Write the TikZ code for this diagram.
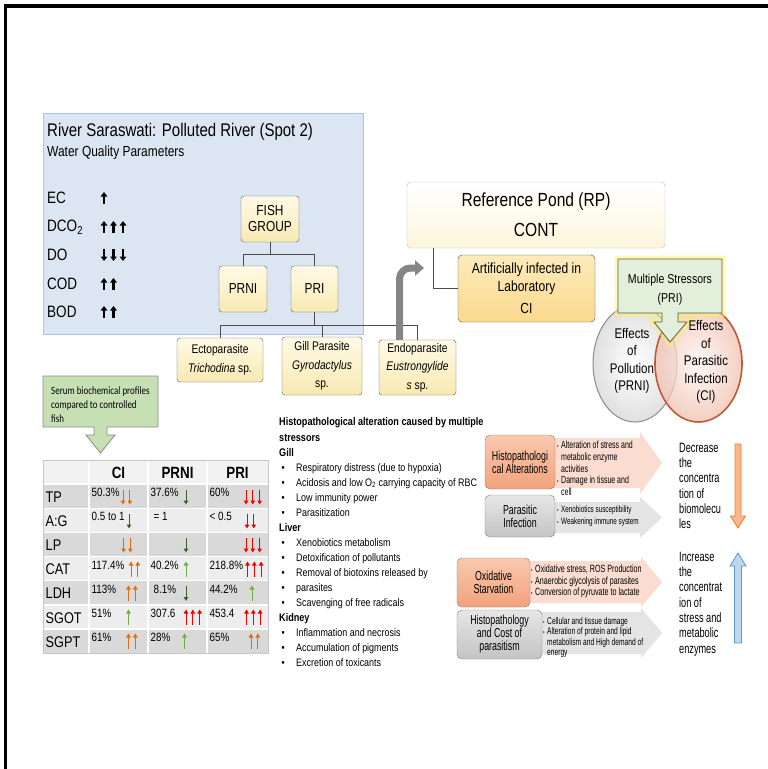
\documentclass[tikz,border=0pt]{standalone}
\usepackage{fontspec}
\setmainfont[FakeStretch=0.82]{Liberation Sans}
\newfontfamily\narrowsans[FakeStretch=0.68]{Liberation Sans}
\newfontfamily\serumfont[FakeStretch=0.8]{Carlito}
\usepackage{xcolor}
\usetikzlibrary{calc}
\usetikzlibrary{arrows.meta,shapes.geometric}

\definecolor{riverfill}{HTML}{DCE6F2}
\definecolor{riverline}{HTML}{A9C6E8}
\definecolor{creamtop}{HTML}{FFFAE6}
\definecolor{creambot}{HTML}{F8E9B2}
\definecolor{labtop}{HTML}{FDEBBB}
\definecolor{labbot}{HTML}{FBD98E}
\definecolor{stressfill}{HTML}{E2EFDA}
\definecolor{serumfill}{HTML}{C6E0B4}
\definecolor{salmontop}{HTML}{F9C9AE}
\definecolor{salmonbot}{HTML}{F2A27C}
\definecolor{graytop}{HTML}{E6E6E6}
\definecolor{graybot}{HTML}{C4C4C4}
\definecolor{pinkarrow}{HTML}{FADCD0}
\definecolor{grayarrow}{HTML}{E4E4E4}
\definecolor{rowhead}{HTML}{F2F2F2}
\definecolor{rowdark}{HTML}{D9D9D9}
\definecolor{rowlight}{HTML}{EDEDED}
\definecolor{upred}{HTML}{F00000}
\definecolor{uporange}{HTML}{E46C0A}
\definecolor{upgreen}{HTML}{70AD47}
\definecolor{dkgreen}{HTML}{3B5E22}
\definecolor{infectline}{HTML}{C0583A}
\definecolor{infectfill}{HTML}{F0C0AE}
\definecolor{decfill}{HTML}{F8B88B}
\definecolor{decline}{HTML}{ED7D31}
\definecolor{incfill}{HTML}{BDD7EE}
\definecolor{incline}{HTML}{5B9BD5}

\newcommand{\fs}[2]{\fontsize{#1}{#2}\selectfont}
\newcommand{\hitem}{\hspace*{2.5pt}\makebox[14.5pt][l]{\textbullet}}
\newcommand{\nb}{\makebox[4pt][l]{\fs{6}{6}\textbullet}}
% small arrows of the table: x, y, number, colour, direction (1 up, -1 down)
\newcommand{\trend}[5]{%
  \foreach \k in {1,...,#3}{%
    \draw[trend arrow,#4] ({#1+(\k-1)*6.8},{#2+7.5*(#5)}) -- ({#1+(\k-1)*6.8},{#2-7.5*(#5)});}}
% wide flat arrow: style, start x, centre y, body half, head half, head x, tip x
\newcommand{\flatarrow}[7]{%
  \fill[#1] (#2,{#3-#4}) -- (#6,{#3-#4}) -- (#6,{#3-#5}) -- (#7,#3) -- (#6,{#3+#5}) -- (#6,{#3+#4}) -- (#2,{#3+#4}) -- cycle;}

\begin{document}
\begin{tikzpicture}[
  x=1pt,y=-1pt, % one unit is one pixel, y runs downwards
  fish box/.style={draw=black!65,rounded corners=3pt,top color=creamtop,bottom color=creambot,align=center,inner sep=1pt,font=\fs{14.5}{16}}, % cream boxes of the groups
  link/.style={draw=black!70,line width=0.8pt}, % thin connectors
  tone box/.style={draw=black!50,rounded corners=5pt,align=center,inner sep=1pt,font=\narrowsans\fs{13}{13}}, % boxes of the right hand stack
  note/.style={anchor=west,align=left,inner sep=0pt}, % bullet notes in the wide arrows
  cell/.style={anchor=west,inner sep=0pt,font=\fs{12}{14}}, % values of the table
  trend arrow/.style={line width=1pt,-{Triangle[length=4pt,width=4.5pt]}}, % small arrows of the table
  wq arrow/.style={line width=2.4pt,-{Triangle[length=4.5pt,width=6.5pt]}} % arrows of the water quality
  ]

  \useasboundingbox (0,0) rectangle (768,769);
  \fill[white] (0,0) rectangle (768,769);
  \draw[line width=3.5pt] (5.5,780) -- (5.5,6) -- (780,6);

  % polluted river
  \node[draw=riverline,fill=riverfill,minimum width=320pt,minimum height=221pt,inner sep=0pt] (river) at (203,223.5) {};
  \node[anchor=west,inner sep=0pt,font=\fs{18.3}{20}] (title) at (47,132) {River Saraswati: Polluted River (Spot 2)};
  \node[anchor=west,inner sep=0pt,font=\fs{14.6}{16}] (wqp) at (47,153) {Water Quality Parameters};
  \foreach \lab/\yy/\n/\dir [count=\i] in {EC/198/1/1,DCO\textsubscript{2}/227/3/1,DO/255/3/-1,COD/284/2/1,BOD/312/2/1}{
    \node[anchor=west,inner sep=0pt,font=\fs{16.5}{18}] (wq\i) at (47,\yy) {\lab};
    \foreach \k in {1,...,\n}
      \draw[wq arrow] ({104+(\k-1)*9.5},{\yy+6*(\dir)}) -- ({104+(\k-1)*9.5},{\yy-6*(\dir)});
  }

  % fish groups
  \node[fish box,minimum width=58pt,minimum height=46pt] (fish) at (270,219) {FISH\\GROUP};
  \node[fish box,minimum width=48pt,minimum height=46pt] (prni) at (243,289) {PRNI};
  \node[fish box,minimum width=47pt,minimum height=46pt] (pri) at (314.5,289) {PRI};
  \node[fish box,font=\fs{12.5}{18.5},minimum width=86pt,minimum height=44pt] (ecto) at (220,360) {Ectoparasite\\\textit{Trichodina} sp.};
  \node[fish box,font=\fs{12.5}{18.5},minimum width=80pt,minimum height=58pt] (gill) at (322,366) {Gill Parasite\\\textit{Gyrodactylus}\\sp.};
  \node[fish box,font=\fs{12.5}{18.5},minimum width=77pt,minimum height=55pt] (endo) at (417.5,367.5) {Endoparasite\\\textit{Eustrongylide}\\\textit{s} sp.};

  \draw[link] (fish.south) -- ++(0,12) coordinate (fork) -| (prni.north);
  \draw[link] (fork) -| (pri.north);
  \draw[link] (pri.south) -- ++(0,13) coordinate (bus);
  \draw[link] (bus) -| (ecto.north);
  \draw[link] (bus) -| (gill.north);
  \draw[link] (bus) -| (endo.north);
  \draw[line width=7pt,draw=black!48,rounded corners=11pt,-{Triangle[length=9pt,width=15pt]}] ([xshift=-18pt]endo.north) |- (424,268);

  % reference pond
  \node[draw=black!25,rounded corners=4pt,top color=white,bottom color=creamtop!80!creambot,minimum width=258pt,minimum height=66pt,align=center,font=\fs{19}{30}] (rp) at (536,215) {Reference Pond (RP)\\CONT};
  \node[draw=black!70,rounded corners=4pt,top color=labtop,bottom color=labbot,minimum width=137pt,minimum height=67pt,align=center,font=\fs{14.7}{18}] (ci) at (526.5,288.5) {Artificially infected in\\Laboratory\\[4pt]CI};
  \draw[link] ([xshift=-103pt]rp.south) |- (ci.west);

  % effects of the stressors
  \node[ellipse,draw=black!45,line width=1pt,inner color=white,outer color=black!12,minimum width=84pt,minimum height=117pt] (pollution) at (635,363.5) {};
  \node[ellipse,draw=infectline,line width=1.6pt,inner color=white!85!infectfill,outer color=infectfill,fill opacity=0.75,minimum width=87pt,minimum height=117pt] (infection) at (698.5,363.5) {};
  \fill[stressfill,draw=black!65,line width=0.8pt,line join=round,preaction={draw=yellow!70,line width=7pt,opacity=0.45}]
    (618,259) -- (722,259) -- (722,313) -- (678,313) -- (678,322) -- (687,322) -- (670,342)
    -- (654,322) -- (662,322) -- (662,313) -- (618,313) -- cycle;
  \node[align=center,inner sep=0pt,font=\fs{12.9}{19}] (stress) at (670,289.5) {Multiple Stressors\\(PRI)};
  \node[align=center,inner sep=0pt,font=\fs{14}{17.3}] (pollutiontext) at (632,361) {Effects\\of\\Pollution\\(PRNI)};
  \node[align=center,inner sep=0pt,font=\fs{14}{17.5}] (infectiontext) at (706,362) {Effects\\of\\Parasitic\\Infection\\(CI)};

  % serum table
  \fill[serumfill,draw=black!45,line width=0.8pt]
    (43,376) -- (158,376) -- (158,427) -- (107,427) -- (107,435) -- (115,435) -- (100.5,453)
    -- (86,435) -- (94,435) -- (94,427) -- (43,427) -- cycle;
  \node[anchor=west,align=left,inner sep=0pt,font=\serumfont\fs{11.2}{14}] (serum) at (51,405) {Serum biochemical profiles\\compared to controlled\\fish};

  \foreach \r/\c in {0/rowhead,1/rowdark,2/rowlight,3/rowdark,4/rowlight,5/rowdark,6/rowlight,7/rowdark}
    \fill[\c] (43,{460+24.125*\r}) rectangle (268,{484.125+24.125*\r});
  \foreach \xx in {89,148,207}
    \draw[white,line width=1.5pt] (\xx,460) -- (\xx,653);
  \foreach \r in {1,...,7}
    \draw[white,line width=1.5pt] (43,{460+24.125*\r}) -- (268,{460+24.125*\r});
  \draw[black!22,line width=0.8pt] (43,460) rectangle (268,653);

  \node[font=\bfseries\fs{16.3}{18},inner sep=0pt] (hci) at (118.5,473) {CI};
  \node[font=\bfseries\fs{16.3}{18},inner sep=0pt] (hprni) at (177.5,473) {PRNI};
  \node[font=\bfseries\fs{16.3}{18},inner sep=0pt] (hpri) at (237.5,473) {PRI};
  \foreach \lab [count=\i] in {TP,A:G,LP,CAT,LDH,SGOT,SGPT}
    \node[anchor=west,inner sep=0pt,font=\fs{15.5}{17}] (row\i) at (45.5,{473+24.125*\i}) {\lab};
  \foreach \i/\a/\b/\c in {1/50.3\%/37.6\%/60\%,2/0.5 to 1/\hspace*{3pt}= 1/< 0.5,4/117.4\%/40.2\%/218.8\%,5/113\%/\hspace*{3pt}8.1\%/44.2\%,6/51\%/307.6/453.4,7/61\%/28\%/65\%}{
    \node[cell] (vci\i) at (91.5,{468.5+24.125*\i}) {\a};
    \node[cell] (vprni\i) at (150.5,{468.5+24.125*\i}) {\b};
    \node[cell] (vpri\i) at (209.5,{468.5+24.125*\i}) {\c};
  }
  \trend{123}{497}{2}{uporange}{-1} \trend{186}{497}{1}{dkgreen}{-1} \trend{246}{497}{3}{upred}{-1}
  \trend{129}{521}{1}{dkgreen}{-1} \trend{247}{521}{2}{upred}{-1}
  \trend{123.5}{545}{2}{uporange}{-1} \trend{186}{545}{1}{dkgreen}{-1} \trend{246}{545}{3}{upred}{-1}
  \trend{131}{569}{2}{uporange}{1} \trend{186}{569}{1}{upgreen}{1} \trend{247.5}{569}{3}{upred}{1}
  \trend{128.5}{593}{2}{uporange}{1} \trend{186}{593.5}{1}{dkgreen}{-1} \trend{252}{593}{1}{upgreen}{1}
  \trend{128.5}{617}{1}{upgreen}{1} \trend{186}{617}{3}{upred}{1} \trend{246.5}{617}{3}{upred}{1}
  \trend{128.5}{641}{2}{uporange}{1} \trend{184.5}{641}{1}{upgreen}{1} \trend{251}{641}{2}{uporange}{1}

  % histopathology
  \node[anchor=west,align=left,inner sep=0pt,font=\fs{10.9}{15.06}] (histo) at (279,542.5) {%
    {\bfseries\fs{11.1}{15.06}Histopathological alteration caused by multiple}\\
    {\bfseries\fs{11.1}{15.06}stressors}\\
    {\bfseries\fs{11.1}{15.06}Gill}\\
    \hitem Respiratory distress (due to hypoxia)\\
    \hitem Acidosis and low O\textsubscript{2} carrying capacity of RBC\\
    \hitem Low immunity power\\
    \hitem Parasitization\\
    {\bfseries\fs{11.1}{15.06}Liver}\\
    \hitem Xenobiotics metabolism\\
    \hitem Detoxification of pollutants\\
    \hitem Removal of biotoxins released by\\
    \hitem parasites\\
    \hitem Scavenging of free radicals\\
    {\bfseries\fs{11.1}{15.06}Kidney}\\
    \hitem Inflammation and necrosis\\
    \hitem Accumulation of pigments\\
    \hitem Excretion of toxicants};

  % consequences
  \flatarrow{pinkarrow}{540}{463}{25}{31}{640}{662}
  \flatarrow{grayarrow}{540}{517.5}{15.5}{20.5}{640}{662}
  \flatarrow{pinkarrow}{520}{582}{21}{25}{641}{662}
  \flatarrow{grayarrow}{530}{633}{21}{25}{641}{662}
  \node[tone box,top color=salmontop,bottom color=salmonbot,minimum width=70pt,minimum height=54pt] (alter) at (520,462) {Histopathologi\\cal Alterations};
  \node[tone box,top color=graytop,bottom color=graybot,minimum width=70pt,minimum height=42pt] (parasitic) at (520,516) {Parasitic\\Infection};
  \node[tone box,top color=salmontop,bottom color=salmonbot,minimum width=73pt,minimum height=49pt] (oxidative) at (493.5,582.5) {Oxidative\\Starvation};
  \node[tone box,top color=graytop,bottom color=graybot,minimum width=85pt,minimum height=49pt] (cost) at (499.5,634.5) {Histopathology\\and Cost of\\parasitism};

  \node[note,font=\narrowsans\fs{10.3}{11.75}] (alternote) at (557,468.5) {\nb Alteration of stress and\\\hspace*{4pt}metabolic enzyme\\\hspace*{4pt}activities\\\nb Damage in tissue and\\\hspace*{4pt}cell};
  \node[note,font=\narrowsans\fs{9.3}{11.5}] (parasiticnote) at (557,516) {\nb Xenobiotics susceptibility\\\nb Weakening immune system};
  \node[note,font=\narrowsans\fs{10.5}{11.5}] (oxidativenote) at (531,581.5) {\nb Oxidative stress, ROS Production\\\nb Anaerobic glycolysis of parasites\\\nb Conversion of pyruvate to lactate};
  \node[note,font=\narrowsans\fs{9.8}{10.5}] (costnote) at (543,637.5) {\nb Cellular and tissue damage\\\nb Alteration of protein and lipid\\\hspace*{4pt}metabolism and High demand of\\\hspace*{4pt}energy};

  \node[note,font=\narrowsans\fs{13.5}{15.2}] (decrease) at (679,486) {Decrease\\the\\concentra\\tion of\\biomolecu\\les};
  \node[note,font=\narrowsans\fs{13.5}{15.3}] (increase) at (679,604) {Increase\\the\\concentrat\\ion of\\stress and\\metabolic\\enzymes};
  \fill[decfill,draw=decline,line width=0.8pt] (735,444) -- (741,444) -- (741,516) -- (745.5,516) -- (738,528) -- (730.5,516) -- (735,516) -- cycle;
  \fill[incfill,draw=incline,line width=0.8pt] (734.5,643) -- (741.5,643) -- (741.5,566) -- (746,566) -- (738,553) -- (730,566) -- (734.5,566) -- cycle;
\end{tikzpicture}
\end{document}
